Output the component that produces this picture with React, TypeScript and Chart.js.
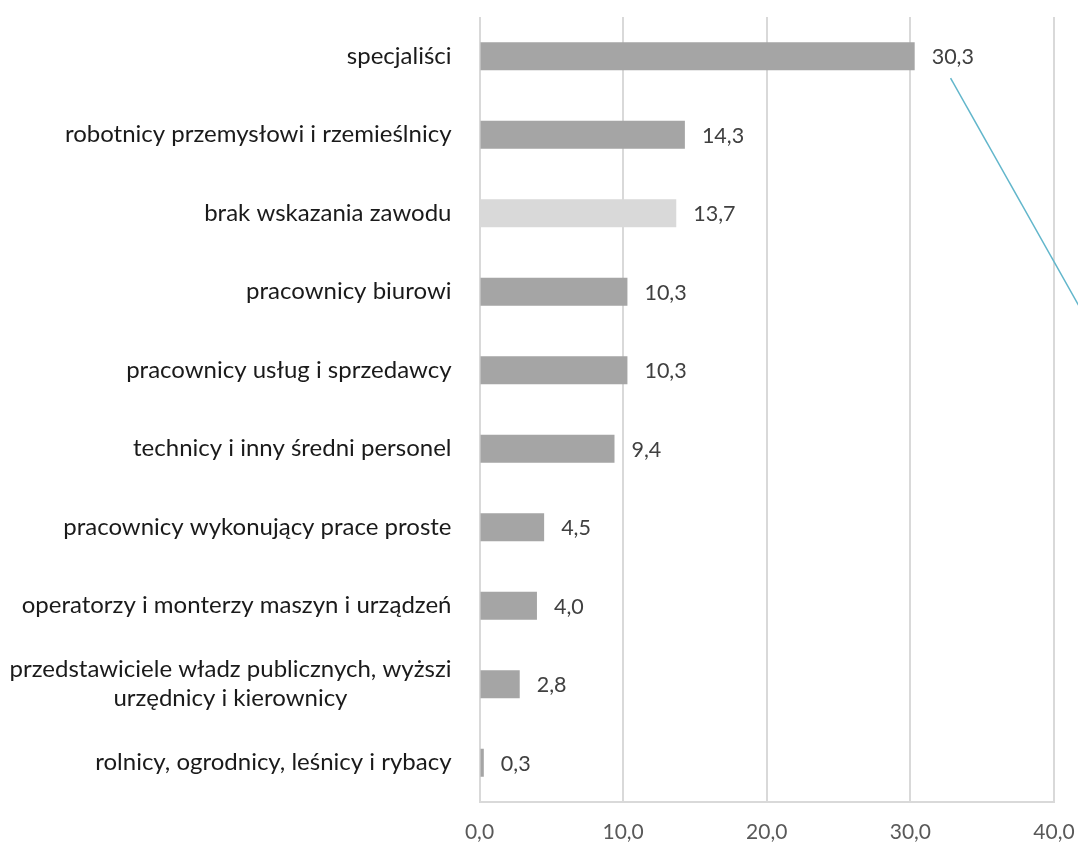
import React, { useEffect, useRef } from "react";
import { Chart, registerables } from "chart.js";

Chart.register(...registerables);

// Occupational groups, top to bottom; each entry is the list of lines of its label
const categories: string[][] = [
  ["specjaliści"],
  ["robotnicy przemysłowi i rzemieślnicy"],
  ["brak wskazania zawodu"],
  ["pracownicy biurowi"],
  ["pracownicy usług i sprzedawcy"],
  ["technicy i inny średni personel"],
  ["pracownicy wykonujący prace proste"],
  ["operatorzy i monterzy maszyn i urządzeń"],
  ["przedstawiciele władz publicznych, wyższi", "urzędnicy i kierownicy"],
  ["rolnicy, ogrodnicy, leśnicy i rybacy"],
];

// Share of respondents, %
const values: number[] = [30.3, 14.3, 13.7, 10.3, 10.3, 9.4, 4.5, 4.0, 2.8, 0.3];

// Group shown in the lighter shade
const unspecifiedLabel = "brak wskazania zawodu";

// Axis range and step
const axisMin = 0;
const axisMax = 40;
const axisStep = 10;

// Callout leader line, [value, category position] at both ends
const leaderStart: [number, number] = [32.8, 0.28];
const leaderEnd: [number, number] = [41.8, 3.2];

const FONT = "Lato, 'Open Sans', sans-serif";
const fmt = (v: number) => v.toFixed(1).replace(".", ",");

const labelsPlugin = {
  id: "sideLabels",
  afterDraw(chart: any) {
    const { ctx, chartArea } = chart;
    const xs = chart.scales.x;
    const ys = chart.scales.y;
    ctx.save();

    // category labels: block right-aligned to the axis, lines centred within it
    ctx.font = `24px ${FONT}`;
    ctx.fillStyle = "#1a1a1a";
    ctx.textBaseline = "middle";
    ctx.textAlign = "center";
    const lineH = 29;
    const right = chartArea.left - 28;
    categories.forEach((lines, i) => {
      const yc = ys.getPixelForValue(i);
      const w = Math.max(...lines.map((l) => ctx.measureText(l).width));
      const cx = right - w / 2;
      lines.forEach((l, j) => {
        const y = yc + (j - (lines.length - 1) / 2) * lineH;
        ctx.fillText(l, cx, y);
      });
    });

    // value labels at bar ends
    ctx.font = `21.5px ${FONT}`;
    ctx.fillStyle = "#404040";
    ctx.textAlign = "left";
    values.forEach((v, i) => {
      const x = xs.getPixelForValue(v) + 17;
      const y = ys.getPixelForValue(i) + 1;
      ctx.fillText(fmt(v), x, y);
    });

    // callout leader line
    ctx.strokeStyle = "#62b6cb";
    ctx.lineWidth = 1.5;
    ctx.beginPath();
    ctx.moveTo(xs.getPixelForValue(leaderStart[0]), ys.getPixelForValue(leaderStart[1]));
    ctx.lineTo(xs.getPixelForValue(leaderEnd[0]), ys.getPixelForValue(leaderEnd[1]));
    ctx.stroke();

    ctx.restore();
  },
};

export default function App() {
  const ref = useRef<HTMLCanvasElement | null>(null);

  useEffect(() => {
    document.body.style.margin = "0";
    if (!ref.current) return;
    const chart = new Chart(ref.current, {
      type: "bar",
      data: {
        labels: categories.map((c) => c.join(" ")),
        datasets: [
          {
            data: values,
            backgroundColor: categories.map((c) =>
              c.join(" ") === unspecifiedLabel ? "#d9d9d9" : "#a5a5a5"
            ),
            barPercentage: 0.357,
            categoryPercentage: 1,
          },
        ],
      },
      options: {
        indexAxis: "y",
        animation: false,
        responsive: false,
        maintainAspectRatio: false,
        layout: { padding: { left: 479.5, right: 24, top: 17, bottom: 0 } },
        plugins: {
          legend: { display: false },
          tooltip: { enabled: false },
        },
        scales: {
          x: {
            min: axisMin,
            max: axisMax,
            afterFit(scale: any) {
              scale.height = 41;
            },
            grid: {
              color: "#d9d9d9",
              lineWidth: 2,
              drawTicks: true,
              tickLength: 20,
              tickColor: "rgba(0,0,0,0)",
            },
            border: { display: true, color: "#d9d9d9", width: 2 },
            ticks: {
              stepSize: axisStep,
              padding: 0,
              color: "#595959",
              font: { family: FONT, size: 21, lineHeight: 1 },
              callback: (v: any) => fmt(Number(v)),
            },
          },
          y: {
            display: false,
          },
        },
      },
      plugins: [labelsPlugin],
    });
    return () => chart.destroy();
  }, []);

  return (
    <div style={{ width: 1078, height: 843, position: "relative" }}>
      <canvas ref={ref} width={1078} height={843} />
    </div>
  );
}
